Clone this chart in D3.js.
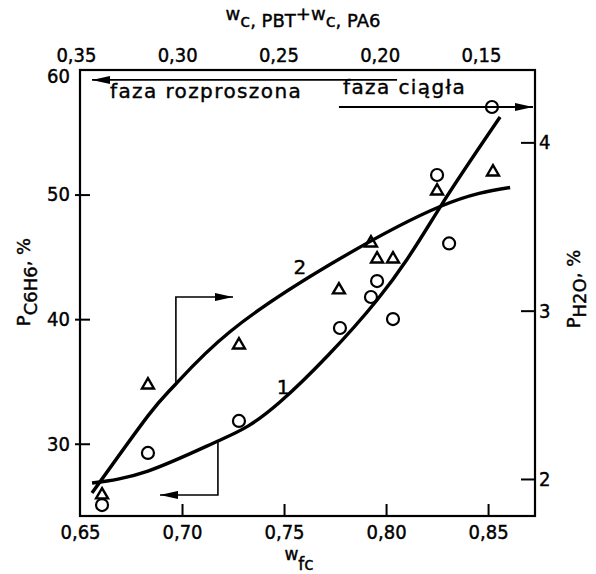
<!DOCTYPE html>
<html>
<head>
<meta charset="utf-8">
<script src="https://cdn.jsdelivr.net/npm/d3@7"></script>
<style>
  body { margin: 0; background: #fff; }
  svg { display: block; }
  text { font-family: "DejaVu Sans", sans-serif; fill: #000; stroke: #000; stroke-width: 0.4px; }
  .tick text { font-family: "DejaVu Sans Condensed", "Liberation Sans Narrow", "DejaVu Sans", sans-serif; font-stretch: condensed; font-size: 20px; }
</style>
</head>
<body>
<svg id="chart" width="596" height="574"></svg>
<script>
// bottom axis w_fc, left axis P_C6H6 (%), right axis P_H2O (%)
const xTicks = [0.65, 0.70, 0.75, 0.80, 0.85]
const topTicks = [0.35, 0.30, 0.25, 0.20, 0.15]
const leftTicks = [30, 40, 50, 60]
const rightTicks = [2, 3, 4]

// series 1 (circles) -> left axis
const circleX = [0.6608, 0.6833, 0.7279, 0.7774, 0.7926, 0.7956, 0.8034, 0.8250, 0.8309, 0.8519]
const circleY = [25.08, 29.26, 31.83, 39.29, 41.78, 43.06, 40.01, 51.57, 46.08, 57.03]
// series 2 (triangles) -> right axis
const triX = [0.6608, 0.6833, 0.7279, 0.7769, 0.7926, 0.7956, 0.8034, 0.8250, 0.8524]
const triY = [1.905, 2.558, 2.796, 3.123, 3.402, 3.307, 3.307, 3.711, 3.824]

// hand drawn fit curves
const curve1X = [0.6559, 0.6833, 0.7176, 0.7480, 0.7956, 0.8265, 0.8559]
const curve1Y = [26.85, 27.81, 30.22, 33.35, 41.54, 49.00, 56.23]
const curve2X = [0.6559, 0.6833, 0.6966, 0.7235, 0.7725, 0.8265, 0.8608]
const curve2Y = [1.917, 2.375, 2.560, 2.875, 3.274, 3.619, 3.732]

const svg = d3.select('#chart')
const mLeft = 80, mRight = 535, mTop = 70, mBottom = 516

let x = d3.scaleLinear().domain([0.65, 0.873]).range([mLeft, mRight])
let xTop = d3.scaleLinear().domain([0.348, 0.1233]).range([mLeft, mRight])
let yL = d3.scaleLinear().domain([24.2, 60]).range([mBottom, mTop])
let yR = d3.scaleLinear().domain([1.78, 4.43]).range([mBottom, mTop])

const comma = d3.formatLocale({decimal: ',', thousands: '.', grouping: [3], currency: ['', '']}).format('.2f')

svg.append('defs').append('marker')
  .attr('id', 'head')
  .attr('viewBox', '0 0 18 8')
  .attr('refX', 18).attr('refY', 4)
  .attr('markerWidth', 18).attr('markerHeight', 8)
  .attr('markerUnits', 'userSpaceOnUse')
  .attr('orient', 'auto')
  .append('path').attr('d', 'M0,0L18,4L0,8Z').attr('fill', '#000')

// axes
let xAxis = svg.append('g').attr('transform', `translate(0,${mBottom})`)
  .call(d3.axisBottom(x).tickValues(xTicks).tickFormat(comma).tickSizeInner(-12).tickSizeOuter(0).tickPadding(9))
let topAxis = svg.append('g').attr('transform', `translate(0,${mTop})`)
  .call(d3.axisTop(xTop).tickValues(topTicks).tickFormat(comma).tickSize(0).tickPadding(8))
let leftAxis = svg.append('g').attr('transform', `translate(${mLeft},0)`)
  .call(d3.axisLeft(yL).tickValues(leftTicks).tickSizeInner(-10).tickSizeOuter(0).tickPadding(10))
let rightAxis = svg.append('g').attr('transform', `translate(${mRight},0)`)
  .call(d3.axisRight(yR).tickValues(rightTicks).tickFormat(d3.format('d')).tickSizeInner(-14).tickSizeOuter(0).tickPadding(4))

svg.selectAll('.domain').remove()
svg.selectAll('.tick line').attr('stroke', '#000').attr('stroke-width', 2)
leftAxis.selectAll('.tick line').attr('x1', -5)
xAxis.selectAll('.tick').filter(d => d == 0.65).select('line').remove()
leftAxis.selectAll('.tick').filter(d => d == 60).select('line').remove()
leftAxis.selectAll('.tick').filter(d => d == 60).select('text').attr('dy', '0.6em')

svg.append('rect')
  .attr('x', mLeft).attr('y', mTop)
  .attr('width', mRight - mLeft).attr('height', mBottom - mTop)
  .attr('fill', 'none').attr('stroke', '#000').attr('stroke-width', 2.2)

// curves
let line1 = d3.line().x(i => x(curve1X[i])).y(i => yL(curve1Y[i])).curve(d3.curveNatural)
let line2 = d3.line().x(i => x(curve2X[i])).y(i => yR(curve2Y[i])).curve(d3.curveNatural)
svg.append('path').attr('d', line1(d3.range(curve1X.length)))
  .attr('fill', 'none').attr('stroke', '#000').attr('stroke-width', 3.4)
svg.append('path').attr('d', line2(d3.range(curve2X.length)))
  .attr('fill', 'none').attr('stroke', '#000').attr('stroke-width', 3.4)

// points
svg.selectAll('circle.pt')
  .data(d3.range(circleX.length))
  .enter()
  .append('circle')
  .attr('class', 'pt')
  .attr('cx', i => x(circleX[i]))
  .attr('cy', i => yL(circleY[i]))
  .attr('r', 6)
  .attr('fill', 'none').attr('stroke', '#000').attr('stroke-width', 2.2)

let tri = d3.symbol().type(d3.symbolTriangle).size(62)
svg.selectAll('path.tri')
  .data(d3.range(triX.length))
  .enter()
  .append('path')
  .attr('class', 'tri')
  .attr('d', tri)
  .attr('transform', i => `translate(${x(triX[i])},${yR(triY[i])})`)
  .attr('fill', 'none').attr('stroke', '#000').attr('stroke-width', 2.4)

// curve numbers
svg.append('text').attr('x', x(0.7495)).attr('y', yL(34.55)).attr('dy', '0.35em')
  .attr('text-anchor', 'middle').style('font-size', '20px').text('1')
svg.append('text').attr('x', x(0.7578)).attr('y', yL(44.19)).attr('dy', '0.35em')
  .attr('text-anchor', 'middle').style('font-size', '20px').text('2')

// callout arrows: curve 2 -> right axis, curve 1 -> left axis
svg.append('path')
  .attr('d', `M${x(0.697)},${yR(2.57)}V${yR(3.081)}H${x(0.725)}`)
  .attr('fill', 'none').attr('stroke', '#000').attr('stroke-width', 1.6)
  .attr('marker-end', 'url(#head)')
svg.append('path')
  .attr('d', `M${x(0.7176)},${yL(30.22)}V${yL(25.89)}H${x(0.6892)}`)
  .attr('fill', 'none').attr('stroke', '#000').attr('stroke-width', 1.6)
  .attr('marker-end', 'url(#head)')

// phase arrows at the top
svg.append('line')
  .attr('x1', x(0.8054)).attr('y1', yL(59.2)).attr('x2', x(0.6559)).attr('y2', yL(59.2))
  .attr('stroke', '#000').attr('stroke-width', 1.8).attr('marker-end', 'url(#head)')
svg.append('line')
  .attr('x1', x(0.7769)).attr('y1', yL(57.03)).attr('x2', x(0.872)).attr('y2', yL(57.03))
  .attr('stroke', '#000').attr('stroke-width', 1.8).attr('marker-end', 'url(#head)')
svg.append('text').attr('x', x(0.6647)).attr('y', yL(57.75))
  .style('font-size', '20px').style('letter-spacing', '1.4px').text('faza rozproszona')
svg.append('text').attr('x', x(0.7789)).attr('y', yL(58.07))
  .style('font-size', '20px').style('letter-spacing', '1.4px').text('faza ciągła')

// axis titles
let bt = svg.append('text').attr('x', 299).attr('y', 560).attr('text-anchor', 'middle').style('font-size', '17px')
bt.append('tspan').text('w')
bt.append('tspan').attr('dy', 10).text('fc')

let tt = svg.append('text').attr('x', 303).attr('y', 27).attr('text-anchor', 'middle').style('font-size', '18px')
tt.append('tspan').attr('dy', -7).text('w')
tt.append('tspan').attr('dy', 7).text('c, PBT')
tt.append('tspan').attr('dy', -7).text('+')
tt.append('tspan').text('w')
tt.append('tspan').attr('dy', 7).text('c, PA6')

let lt = svg.append('text').attr('transform', 'translate(30,282) rotate(-90)')
  .attr('text-anchor', 'middle').style('font-size', '18px')
lt.append('tspan').text('P')
lt.append('tspan').attr('dy', 7).text('C6H6')
lt.append('tspan').attr('dy', -7).text(', %')

let rt = svg.append('text').attr('transform', 'translate(580,289) rotate(-90)')
  .attr('text-anchor', 'middle').style('font-size', '18px')
rt.append('tspan').text('P')
rt.append('tspan').attr('dy', 6).text('H2O')
rt.append('tspan').attr('dy', -6).text(', %')
</script>
</body>
</html>
